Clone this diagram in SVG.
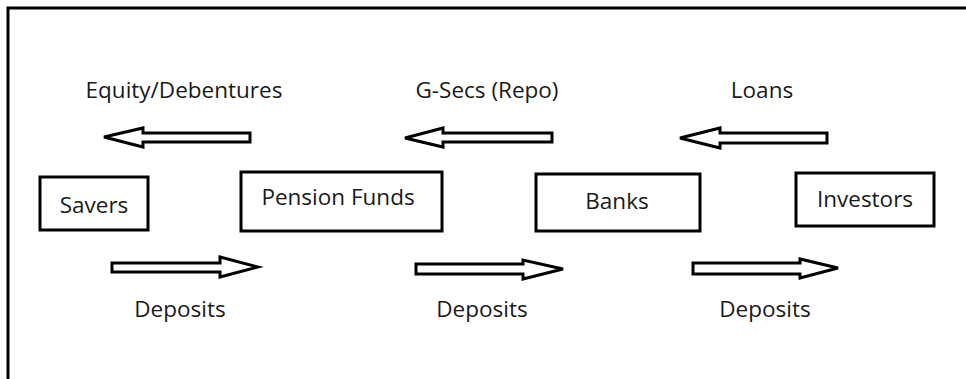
<svg xmlns="http://www.w3.org/2000/svg" width="966" height="379" viewBox="0 0 966 379">
<style>
.bg{fill:#fff}
.frame{fill:none;stroke:#000;stroke-width:3}
.box{fill:#fff;stroke:#000;stroke-width:3}
.arr{fill:#fff;stroke:#000;stroke-width:3;stroke-linejoin:miter}
.t{font-family:"Open Sans","Noto Sans",sans-serif;font-size:22.5px;fill:#1a1a1a;text-anchor:middle}
</style>
<rect class="bg" x="0" y="0" width="966" height="379"/>
<rect class="frame" x="8" y="8" width="1000" height="420"/>
<g id="connectors">
<polygon class="arr" points="250,133 250,142 143,142 143,147 104,137 143,128 143,133"/>
<polygon class="arr" points="552,133 552,142 443,142 443,147 405,138 443,128 443,133"/>
<polygon class="arr" points="827,133 827,143 720,143 720,148 680,138 720,128 720,133"/>
<polygon class="arr" points="112,263 112,272 220,272 220,277 258,267 220,257 220,263"/>
<polygon class="arr" points="416,264 416,274 523,274 523,279 563,269 523,260 523,264"/>
<polygon class="arr" points="693,263 693,274 800,274 800,278 838,268 800,259 800,263"/>
<text class="t" x="184" y="98">Equity/Debentures</text>
<text class="t" x="487" y="98">G-Secs (Repo)</text>
<text class="t" x="762" y="98">Loans</text>
<text class="t" x="180" y="317">Deposits</text>
<text class="t" x="482" y="317">Deposits</text>
<text class="t" x="765" y="317">Deposits</text>
</g>
<g id="savers"><rect class="box" x="40" y="177" width="108" height="53"/><text class="t" x="94" y="213">Savers</text></g>
<g id="pension-funds"><rect class="box" x="241" y="172" width="201" height="59"/><text class="t" x="338" y="205">Pension Funds</text></g>
<g id="banks"><rect class="box" x="536" y="174" width="164" height="57"/><text class="t" x="617" y="209">Banks</text></g>
<g id="investors"><rect class="box" x="796" y="173" width="138" height="53"/><text class="t" x="865" y="207">Investors</text></g>
</svg>
